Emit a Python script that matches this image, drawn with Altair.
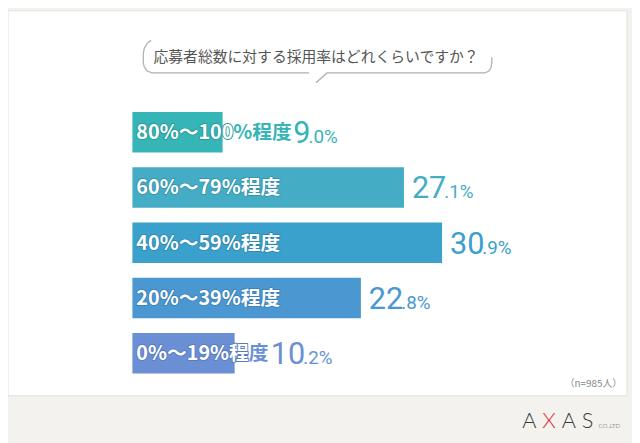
import altair as alt
import pandas as pd

# ---------------- data ----------------
title = "応募者総数に対する採用率はどれくらいですか？"
categories = ["80%〜100%程度", "60%〜79%程度", "40%〜59%程度", "20%〜39%程度", "0%〜19%程度"]
values = [9.0, 27.1, 30.9, 22.8, 10.2]
note = "（n=985人）"
logo_letters = ["A", "X", "A", "S", "CO.,LTD"]

# ---------------- styles / layout ----------------
bar_colors = ["#35b5b5", "#44adc5", "#3aa0cc", "#4b97d2", "#6b8fd4"]
outline_colors = ["#2a9a9a", "#3795ab", "#2f8ab2", "#3d82b8", "#5a7cbc"]
W, H = 632, 435
PX = 10.15          # pixels per percent
X0 = 126            # pixel where 0% sits
LABEL_SIZE = 20
BIG_SIZE = 31
SMALL_SIZE = 19
JP = "Noto Sans CJK JP"
NUM_FONT = "Roboto"


def char_w(ch, size):
    if ch.isdigit():
        return 0.57 * size
    if ch == "%":
        return 0.85 * size
    return 1.0 * size


rows = []
for cat, v, c, o in zip(categories, values, bar_colors, outline_colors):
    bar_end = X0 + v * PX
    pos = X0 + 4
    inside = ""
    for ch in cat:
        if pos < bar_end:
            inside += ch
        pos += char_w(ch, LABEL_SIZE)
    label_end = pos
    vx_px = max(bar_end, label_end) + 8
    big, dec = f"{v:.1f}".split(".")
    small = "." + dec + "%"
    sx_px = vx_px + len(big) * 0.5615 * BIG_SIZE - 2
    rows.append(dict(cat=cat, val=v, zero=0.0, color=c, outline=o, inside=inside,
                     big=big, small=small,
                     vx=(vx_px - X0) / PX, sx=(sx_px - X0) / PX))
df = pd.DataFrame(rows)

xscale = alt.Scale(domain=[-X0 / PX, (W - X0) / PX], nice=False, zero=False)
yscale = alt.Scale(domain=categories, range=[95, 375], paddingInner=0.268, paddingOuter=0.134)

base = alt.Chart(df)
Y = alt.Y("cat:N", scale=yscale, axis=None, sort=categories)
X_ZERO = alt.X("zero:Q", scale=xscale, axis=None)

card = alt.Chart(pd.DataFrame({"k": [0]})).mark_rect(
    fill="white", stroke="#e2dfd8", strokeWidth=1
).encode(x=alt.value(0), x2=alt.value(627), y=alt.value(0), y2=alt.value(390))

# speech bubble outline (decoration)
bub_x = [153, 149, 146, 145, 145, 146, 149, 154, 313,
         320, 331, 491, 495, 497, 498, 498]
bub_y = [38, 41, 46, 52, 60, 65, 69, 71, 71,
         81, 71, 71, 69, 66, 61, 55]
bub_seg = [0] * 9 + [1] * 7
bub = pd.DataFrame({"bx": [x - 8 for x in bub_x], "by": [y - 8 for y in bub_y],
                    "seg": bub_seg, "ord": list(range(len(bub_x)))})
bubble = alt.Chart(bub).mark_line(color="#b0b0b0", strokeWidth=1.3).encode(
    x=alt.X("bx:Q", scale=None, axis=None),
    y=alt.Y("by:Q", scale=None, axis=None),
    detail="seg:N", order="ord:Q")

title_txt = alt.Chart(pd.DataFrame({"t": [title]})).mark_text(
    font=JP, fontSize=15, color="#555555", align="center", baseline="middle"
).encode(x=alt.value(312), y=alt.value(47), text="t:N")

label_under = base.mark_text(font=JP, fontSize=LABEL_SIZE, fontWeight="bold",
                             align="left", baseline="alphabetic", dx=4, dy=7).encode(
    x=X_ZERO, y=Y, color=alt.Color("color:N", scale=None), text="cat:N")

bars = base.mark_bar().encode(
    x=X_ZERO, x2="val:Q", y=Y, color=alt.Color("color:N", scale=None))

label_halo = base.mark_text(font=JP, fontSize=LABEL_SIZE, fontWeight="bold",
                            align="left", baseline="alphabetic", dx=4, dy=7,
                            strokeWidth=1.8, strokeJoin="round").encode(
    x=X_ZERO, y=Y, stroke=alt.Stroke("outline:N", scale=None),
    color=alt.Color("outline:N", scale=None), text="inside:N")

label_over = base.mark_text(font=JP, fontSize=LABEL_SIZE, fontWeight="bold",
                            align="left", baseline="alphabetic", dx=4, dy=7,
                            color="white").encode(
    x=X_ZERO, y=Y, text="inside:N")

big_txt = base.mark_text(font=NUM_FONT, fontSize=BIG_SIZE, fontWeight="normal", align="left",
                         baseline="alphabetic", dy=11).encode(
    x=alt.X("vx:Q", scale=xscale, axis=None), y=Y,
    color=alt.Color("color:N", scale=None), text="big:N")

small_txt = base.mark_text(font=NUM_FONT, fontSize=SMALL_SIZE, fontWeight="normal", align="left",
                           baseline="alphabetic", dy=11).encode(
    x=alt.X("sx:Q", scale=xscale, axis=None), y=Y,
    color=alt.Color("color:N", scale=None), text="small:N")

note_txt = alt.Chart(pd.DataFrame({"t": [note]})).mark_text(
    font=JP, fontSize=10, color="#888888", align="right", baseline="middle"
).encode(x=alt.value(622), y=alt.value(378), text="t:N")

logo = pd.DataFrame({"t": logo_letters,
                     "lx": [536 - 8, 556 - 8, 576 - 8, 595 - 8, 617 - 8],
                     "fs": [22, 22, 22, 22, 6],
                     "c": ["#3a3a3a", "#d8323a", "#3a3a3a", "#3a3a3a", "#3a3a3a"]})
logo_txt = alt.Chart(logo).mark_text(font="Lato", fontWeight=300, align="center",
                                     baseline="alphabetic").encode(
    x=alt.X("lx:Q", scale=None, axis=None), y=alt.value(423),
    text="t:N", size=alt.Size("fs:Q", scale=None),
    color=alt.Color("c:N", scale=None))

chart = alt.layer(card, bubble, title_txt, label_under, bars, label_halo, label_over,
                  big_txt, small_txt, note_txt, logo_txt).resolve_scale(
    x="independent", y="independent", color="independent", size="independent",
    stroke="independent"
).properties(
    width=W, height=H, padding=0,
    autosize=alt.AutoSizeParams(type="none"),
    background="#f4f2ee"
).configure_view(stroke=None)

chart.save("out.html", embed_options={"renderer": "svg", "actions": False})
